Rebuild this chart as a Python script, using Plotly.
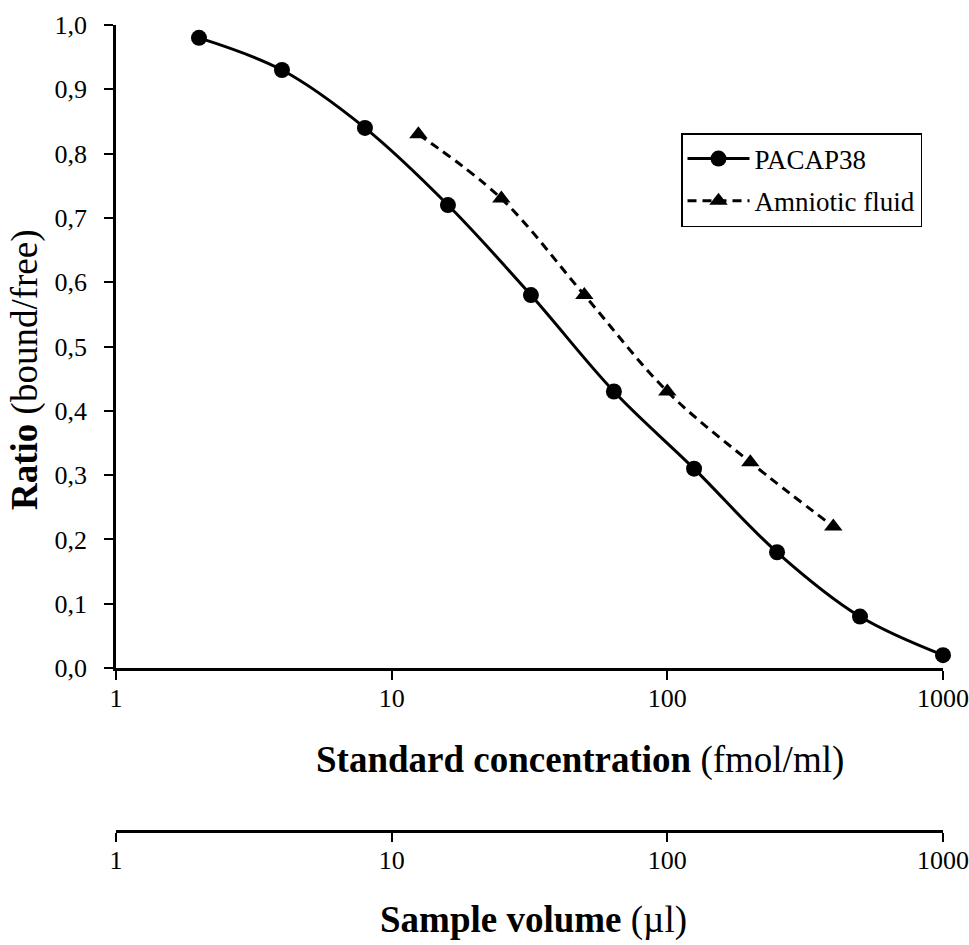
import plotly.graph_objects as go

# Standard curve (PACAP38) and serial dilution of amniotic fluid
std_conc = [2, 4, 8, 16, 32, 64, 125, 250, 500, 1000]
std_ratio = [0.98, 0.93, 0.84, 0.72, 0.58, 0.43, 0.31, 0.18, 0.08, 0.02]

sample_vol = [12.5, 25, 50, 100, 200, 400]
sample_ratio = [0.83, 0.73, 0.58, 0.43, 0.32, 0.22]

log_ticks = [1, 10, 100, 1000]
log_ticktext = ["1", "10", "100", "1000"]

FONT = "Liberation Serif, Times New Roman, serif"
W, H = 969, 945
M_L, M_R, M_T, M_B = 116, 26, 25, 114
PLOT_W = W - M_L - M_R
PLOT_H = H - M_T - M_B


def px_x(px):
    return (px - M_L) / PLOT_W


def px_y(py):
    return (H - M_B - py) / PLOT_H


y_bottom = px_y(668)

fig = go.Figure()

fig.add_trace(go.Scatter(
    x=std_conc, y=std_ratio, name="PACAP38", legendgroup="std",
    mode="lines+markers",
    line=dict(color="black", width=3, shape="spline"),
    marker=dict(symbol="circle", size=16, color="black"),
    cliponaxis=False,
))

fig.add_trace(go.Scatter(
    x=sample_vol, y=sample_ratio, name="Amniotic fluid", legendgroup="af",
    mode="lines+markers",
    line=dict(color="black", width=3, dash="9px,6px", shape="spline"),
    marker=dict(symbol="triangle-up", size=16, color="black"),
    cliponaxis=False,
))

# placeholder so the sample-volume axis is drawn
fig.add_trace(go.Scatter(
    x=[1, 1000], y=[0, 0], xaxis="x2", yaxis="y",
    mode="lines", opacity=0, showlegend=False, hoverinfo="skip",
))

axis_common = dict(
    type="log", range=[0, 3], automargin=False,
    tickmode="array", tickvals=log_ticks, ticktext=log_ticktext,
    showgrid=False, zeroline=False,
    showline=True, linecolor="black", linewidth=2.5,
    ticks="outside", ticklen=9, tickwidth=2, tickcolor="black",
    tickfont=dict(family=FONT, size=26, color="black"),
    ticklabelstandoff=-4,
)

fig.update_layout(
    width=W, height=H, autosize=False,
    margin=dict(l=M_L, r=M_R, t=M_T, b=M_B, autoexpand=False),
    paper_bgcolor="white", plot_bgcolor="white",
    separators=", ",
    font=dict(family=FONT, size=26, color="black"),
    xaxis=dict(**axis_common, anchor="y"),
    xaxis2=dict(**axis_common, overlaying="x", anchor="free", position=0,
                side="bottom"),
    yaxis=dict(
        domain=[y_bottom, 1], range=[0, 1.0], dtick=0.1, tick0=0,
        tickformat=".1f", automargin=False,
        showgrid=False, zeroline=False,
        showline=True, linecolor="black", linewidth=2.5,
        ticks="outside", ticklen=9, tickwidth=2, tickcolor="black",
        tickfont=dict(family=FONT, size=26, color="black"),
        ticklabelstandoff=12,
    ),
    legend=dict(
        x=px_x(681), y=px_y(133), xanchor="left", yanchor="top",
        bgcolor="white", bordercolor="black", borderwidth=1.5,
        font=dict(family=FONT, size=27, color="black"),
        traceorder="grouped", tracegroupgap=4, itemwidth=62,
    ),
    showlegend=True,
    annotations=[
        dict(text="<b>Standard concentration</b> (fmol/ml)",
             xref="paper", yref="paper", x=px_x(580), y=px_y(760),
             xanchor="center", yanchor="middle", showarrow=False,
             font=dict(family=FONT, size=37, color="black")),
        dict(text="<b>Sample volume</b> (µl)",
             xref="paper", yref="paper", x=px_x(533), y=px_y(920),
             xanchor="center", yanchor="middle", showarrow=False,
             font=dict(family=FONT, size=37, color="black")),
        dict(text="<b>Ratio</b> (bound/free)", textangle=-90,
             xref="paper", yref="paper", x=px_x(25), y=px_y(370),
             xanchor="center", yanchor="middle", showarrow=False,
             font=dict(family=FONT, size=37, color="black")),
    ],
)

fig.write_html("out.html")
